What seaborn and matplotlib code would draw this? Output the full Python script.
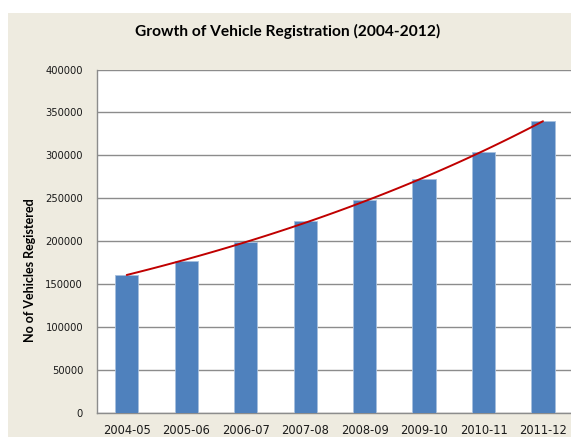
import numpy as np
import pandas as pd
import matplotlib
matplotlib.use("Agg")
import matplotlib.pyplot as plt
from matplotlib.patches import Rectangle
import seaborn as sns

periods = ["2004-05", "2005-06", "2006-07", "2007-08", "2008-09", "2009-10", "2010-11", "2011-12"]
registrations = [160500, 177000, 199500, 223500, 248000, 272500, 304000, 340000]
y_ticks = [0, 50000, 100000, 150000, 200000, 250000, 300000, 350000, 400000]

title = "Growth of Vehicle Registration (2004-2012)"
y_label = "No of Vehicles Registered"

sns.set_theme(style="white")
plt.rcParams["font.family"] = ["DejaVu Sans"]

fig = plt.figure(figsize=(5.71, 4.37), dpi=100)
fig.patch.set_facecolor("white")
bg = Rectangle((8 / 571, 0), 1, 1 - 13 / 437, transform=fig.transFigure,
               facecolor="#EEEBE0", edgecolor="none", zorder=-10)
fig.patches.append(bg)

ax = fig.add_axes([97 / 571, 1 - 412.7 / 437, 1 - 97 / 571 + 0.003, (412.7 - 69.5) / 437])
ax.set_facecolor("white")

df = pd.DataFrame({"period": periods, "count": registrations})
sns.barplot(data=df, x="period", y="count", color="#4F81BD", saturation=1,
            width=0.39, edgecolor="#A7C0DE", linewidth=0.6, ax=ax, zorder=3)

# exponential trendline (as in the spreadsheet chart)
xs = np.arange(len(registrations))
b, a = np.polyfit(xs, np.log(registrations), 1)
xt = np.linspace(0, len(registrations) - 1, 100)
ax.plot(xt, np.exp(a + b * xt), color="#C00000", lw=1.4, zorder=4)

ax.set_ylim(0, 400000)
ax.set_xlim(-0.5, len(periods) - 0.5)
ax.set_yticks(y_ticks)
ax.set_yticklabels([str(v) for v in y_ticks])
ax.yaxis.grid(True, color="#8C8C8C", lw=1.0, zorder=1)
ax.xaxis.grid(False)
ax.set_axisbelow(True)
for s in ["top", "right"]:
    ax.spines[s].set_visible(False)
for s in ["left", "bottom"]:
    ax.spines[s].set_color("#8C8C8C")
    ax.spines[s].set_linewidth(1.0)
ax.tick_params(axis="y", length=0, pad=10, labelsize=7.2, labelcolor="#1a1a1a")
ax.tick_params(axis="x", length=0, pad=8, labelsize=8.3, labelcolor="#1a1a1a")
ax.set_xlabel("")
ax.set_ylabel("")

fig.text(288 / 571, 1 - 31 / 437, title, ha="center", va="center",
         fontsize=11.2, fontweight="bold", family=["Lato", "DejaVu Sans"], color="#000000")
fig.text(30 / 571, 1 - 270 / 437, y_label, ha="center", va="center", rotation=90,
         fontsize=9, fontweight="bold", family=["Lato", "DejaVu Sans"], color="#000000")

fig.savefig("out.png", dpi=100)
